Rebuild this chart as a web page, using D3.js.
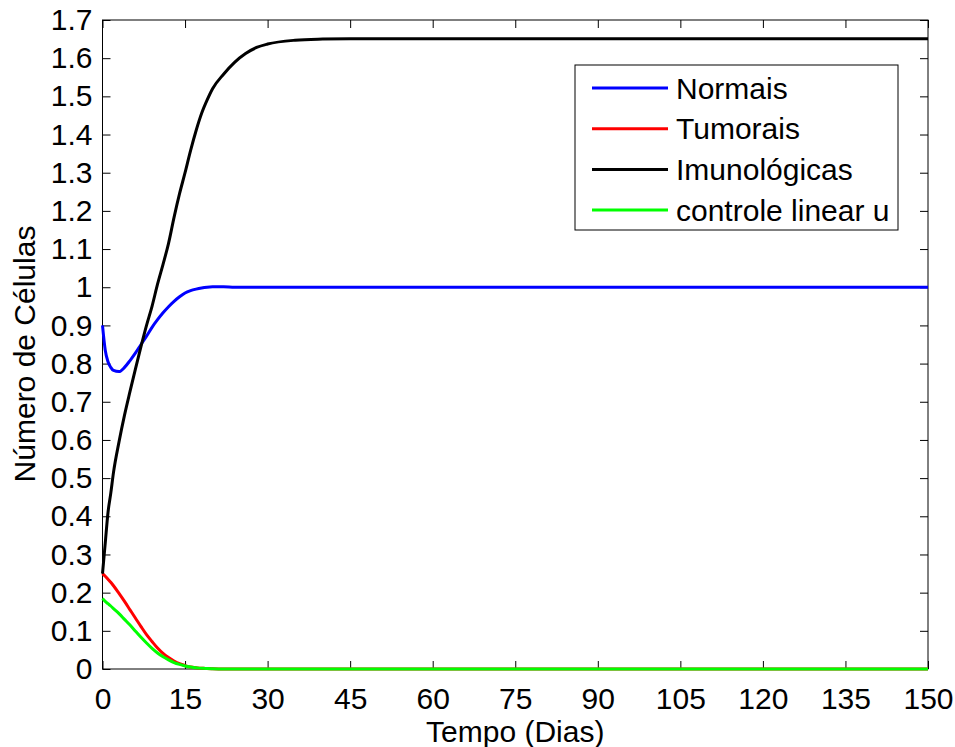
<!DOCTYPE html>
<html>
<head>
<meta charset="utf-8">
<script src="https://cdn.jsdelivr.net/npm/d3@7"></script>
<style>
  body { margin: 0; background: #fff; }
  text { font-family: "Liberation Sans", Arial, sans-serif; fill: #000; }
</style>
</head>
<body>
<svg id="chart"></svg>
<script>
// Time samples (days)
const tempo = [0, 0.5, 1, 1.5, 2, 3, 4, 5, 6, 7, 8, 9, 10, 11, 12, 13, 14, 15, 16, 17, 18, 19, 20, 22, 24, 26, 28, 30, 35, 40, 45, 50, 150];

// Series values
const normais = [0.90, 0.835, 0.805, 0.79, 0.782, 0.779, 0.79, 0.808, 0.828, 0.85, 0.872, 0.895, 0.915, 0.933, 0.949, 0.963, 0.975, 0.985, 0.991, 0.995, 0.998, 1.0, 1.001, 1.001, 1.0, 1.0, 1.0, 1.0, 1.0, 1.0, 1.0, 1.0, 1.0];
const tumorais = [0.25, 0.243, 0.235, 0.227, 0.218, 0.198, 0.177, 0.155, 0.133, 0.111, 0.09, 0.072, 0.055, 0.041, 0.030, 0.021, 0.014, 0.009, 0.005, 0.003, 0.002, 0.001, 0.0005, 0, 0, 0, 0, 0, 0, 0, 0, 0, 0];
const imunologicas = [0.25, 0.33, 0.41, 0.46, 0.515, 0.595, 0.665, 0.727, 0.787, 0.845, 0.90, 0.95, 1.008, 1.06, 1.115, 1.183, 1.245, 1.30, 1.358, 1.41, 1.455, 1.49, 1.52, 1.558, 1.589, 1.612, 1.628, 1.637, 1.647, 1.65, 1.651, 1.651, 1.651];
const controle = [0.185, 0.177, 0.171, 0.165, 0.158, 0.145, 0.13, 0.115, 0.099, 0.083, 0.068, 0.054, 0.042, 0.032, 0.024, 0.017, 0.012, 0.008, 0.005, 0.003, 0.002, 0.001, 0.0005, 0, 0, 0, 0, 0, 0, 0, 0, 0, 0];

const xTicks = [0, 15, 30, 45, 60, 75, 90, 105, 120, 135, 150];
const yTicks = [0, 0.1, 0.2, 0.3, 0.4, 0.5, 0.6, 0.7, 0.8, 0.9, 1, 1.1, 1.2, 1.3, 1.4, 1.5, 1.6, 1.7];

const series = [
  { name: "Normais", values: normais, color: "#0000ff" },
  { name: "Tumorais", values: tumorais, color: "#ff0000" },
  { name: "Imunológicas", values: imunologicas, color: "#000000" },
  { name: "controle linear u", values: controle, color: "#00ff00" }
];

const width = 955, height = 747;
const margin = { top: 20, right: 27, bottom: 78, left: 102.5 };
const innerW = width - margin.left - margin.right;
const innerH = height - margin.top - margin.bottom;
const fontSize = "30px";

const svg = d3.select("#chart")
  .attr("width", width)
  .attr("height", height);

const g = svg.append("g")
  .attr("transform", "translate(" + margin.left + "," + margin.top + ")");

const x = d3.scaleLinear().domain([0, 150]).range([0, innerW]);
const y = d3.scaleLinear().domain([0, 1.7]).range([innerH, 0]);

const fmt = d => d3.format("")(+d.toFixed(1));

// Axes (ticks inside, like MATLAB)
const styleAxis = sel => {
  sel.select(".domain").remove();
  sel.selectAll(".tick line").attr("stroke", "#000");
  sel.selectAll("text").style("font-size", fontSize);
};

g.append("g")
  .attr("transform", "translate(0," + innerH + ")")
  .call(d3.axisBottom(x).tickValues(xTicks).tickSize(-8).tickPadding(19).tickFormat(fmt))
  .call(styleAxis);

g.append("g")
  .call(d3.axisTop(x).tickValues(xTicks).tickSize(-8).tickFormat(""))
  .call(styleAxis);

g.append("g")
  .call(d3.axisLeft(y).tickValues(yTicks).tickSize(-8).tickPadding(10).tickFormat(fmt))
  .call(styleAxis);

g.append("g")
  .attr("transform", "translate(" + innerW + ",0)")
  .call(d3.axisRight(y).tickValues(yTicks).tickSize(-8).tickFormat(""))
  .call(styleAxis);

// Box
g.append("rect")
  .attr("width", innerW)
  .attr("height", innerH)
  .attr("fill", "none")
  .attr("stroke", "#000")
  .attr("stroke-width", 1);

// Lines
const line = d3.line()
  .x((d, i) => x(tempo[i]))
  .y(d => y(d))
  .curve(d3.curveMonotoneX);

g.selectAll(".serie")
  .data(series)
  .enter().append("path")
  .attr("class", "serie")
  .attr("d", d => line(d.values))
  .attr("fill", "none")
  .attr("stroke", d => d.color)
  .attr("stroke-width", 3);

// Legend
const legend = svg.append("g").attr("transform", "translate(575,65)");
legend.append("rect")
  .attr("width", 323)
  .attr("height", 165)
  .attr("fill", "#fff")
  .attr("stroke", "#000");

const items = legend.selectAll(".item")
  .data(series)
  .enter().append("g")
  .attr("transform", (d, i) => "translate(0," + (23 + i * 40.7) + ")");

items.append("line")
  .attr("x1", 17).attr("x2", 93)
  .attr("stroke", d => d.color)
  .attr("stroke-width", 3);

items.append("text")
  .attr("x", 101)
  .attr("dy", "0.35em")
  .style("font-size", fontSize)
  .text(d => d.name);

// Axis titles
svg.append("text")
  .attr("x", margin.left + innerW / 2)
  .attr("y", 742)
  .attr("text-anchor", "middle")
  .style("font-size", fontSize)
  .text("Tempo (Dias)");

svg.append("text")
  .attr("transform", "rotate(-90)")
  .attr("x", -354)
  .attr("y", 35)
  .attr("text-anchor", "middle")
  .style("font-size", fontSize)
  .text("Número de Células");
</script>
</body>
</html>
